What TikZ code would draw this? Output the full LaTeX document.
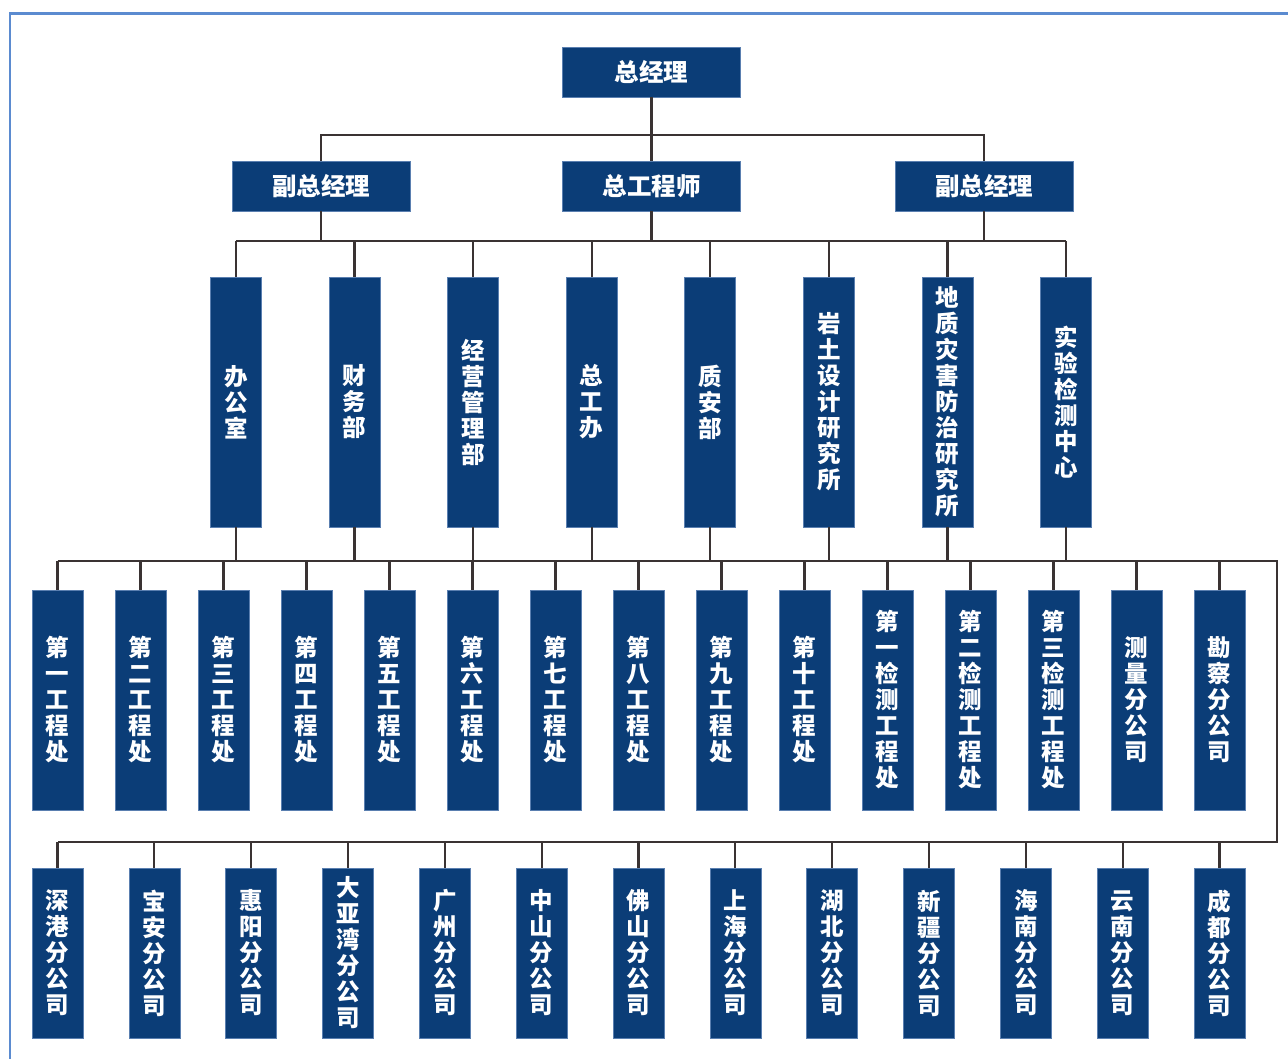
\documentclass[tikz,border=0pt]{standalone}
\usepackage{fontspec}
\newfontfamily\cjk{Noto Sans CJK SC}
\definecolor{boxblue}{HTML}{0B3D77}
\definecolor{boxedge}{HTML}{5A7FB0}
\definecolor{linec}{HTML}{3A3333}
\definecolor{framec}{HTML}{5B8BD0}
\begin{document}
\begin{tikzpicture}[x=1pt,y=-1pt,
  box/.style={fill=boxblue, draw=boxedge, line width=0.6pt, text=white,
    font=\cjk\bfseries\fontsize{23.5}{26}\selectfont, inner sep=0pt, align=center},
  hbox/.style={box, minimum width=178pt, minimum height=50pt, font=\cjk\bfseries\fontsize{24.5}{26}\selectfont},
  vboxa/.style={box, minimum width=51pt, minimum height=250pt},
  vboxb/.style={box, minimum width=51pt, minimum height=220pt},
  vboxc/.style={box, minimum width=51pt, minimum height=170pt},
  link/.style={draw=linec, line width=2.2pt}]
\useasboundingbox (0,0) rectangle (1288,1059);
\fill[white] (0,0) rectangle (1288,1059);
\draw[framec, line width=2.6pt] (10,1059) -- (10,13.5) -- (1288,13.5);

% level 1 and 2
\node[hbox] (gm) at (651.5,72) {总经理};
\node[hbox] (vp1) at (321,186) {副总经理};
\node[hbox] (ce) at (651.5,186) {总工程师};
\node[hbox] (vp2) at (984,186) {副总经理};

% level 3
\foreach \t [count=\i] in {{办\\公\\室},{财\\务\\部},{经\\营\\管\\理\\部},{总\\工\\办},{质\\安\\部},
  {岩\\土\\设\\计\\研\\究\\所},{地\\质\\灾\\害\\防\\治\\研\\究\\所},{实\\验\\检\\测\\中\\心}}
  \node[vboxa] (d\i) at ({236+118.57*(\i-1)},402) {\t};

% level 4
\foreach \t [count=\i] in {{第\\一\\工\\程\\处},{第\\二\\工\\程\\处},{第\\三\\工\\程\\处},{第\\四\\工\\程\\处},
  {第\\五\\工\\程\\处},{第\\六\\工\\程\\处},{第\\七\\工\\程\\处},{第\\八\\工\\程\\处},{第\\九\\工\\程\\处},
  {第\\十\\工\\程\\处},{第\\一\\检\\测\\工\\程\\处},{第\\二\\检\\测\\工\\程\\处},{第\\三\\检\\测\\工\\程\\处},
  {测\\量\\分\\公\\司},{勘\\察\\分\\公\\司}}
  \node[vboxb] (e\i) at ({57.5+83*(\i-1)},700) {\t};

% level 5
\foreach \t [count=\i] in {{深\\港\\分\\公\\司},{宝\\安\\分\\公\\司},{惠\\阳\\分\\公\\司},{大\\亚\\湾\\分\\公\\司},
  {广\\州\\分\\公\\司},{中\\山\\分\\公\\司},{佛\\山\\分\\公\\司},{上\\海\\分\\公\\司},{湖\\北\\分\\公\\司},
  {新\\疆\\分\\公\\司},{海\\南\\分\\公\\司},{云\\南\\分\\公\\司},{成\\都\\分\\公\\司}}
  \node[vboxc] (f\i) at ({57.5+96.83*(\i-1)},953) {\t};

% bus coordinates
\coordinate (bA) at (651.5,135);
\coordinate (bB) at (651.5,241);
\coordinate (bC) at (651.5,561);
\coordinate (r1) at (1277,561);
\coordinate (r2) at (1277,842);

% connectors level 1 -> 2
\draw[link] (gm.south) -- (ce.north);
\draw[link] (vp1.north) -- (vp1.north |- bA) -- (vp2.north |- bA) -- (vp2.north);

% level 2 -> 3
\foreach \n in {vp1,ce,vp2} \draw[link] (\n.south) -- (\n.south |- bB);
\draw[link] (d1.north |- bB) -- (d8.north |- bB);
\foreach \i in {1,...,8} \draw[link] (d\i.north) -- (d\i.north |- bB);

% level 3 -> 4
\foreach \i in {1,...,8} \draw[link] (d\i.south) -- (d\i.south |- bC);
\draw[link] (e1.north |- bC) -- (r1) -- (r2) -- (f1.north |- r2);
\foreach \i in {1,...,15} \draw[link] (e\i.north) -- (e\i.north |- bC);
\foreach \i in {1,...,13} \draw[link] (f\i.north) -- (f\i.north |- r2);
\end{tikzpicture}
\end{document}
